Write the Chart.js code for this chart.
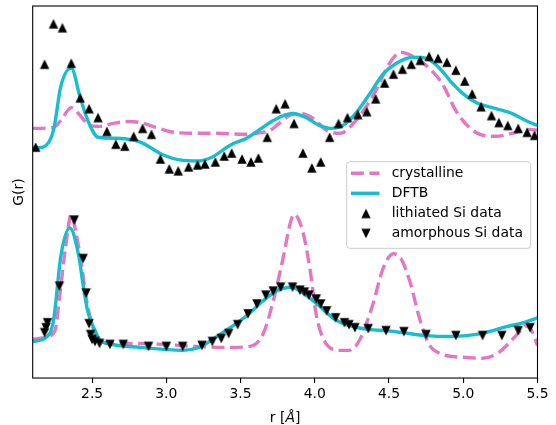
<!DOCTYPE html>
<html>
<head>
<meta charset="utf-8">
<script src="https://cdn.jsdelivr.net/npm/chart.js@4.4.1/dist/chart.umd.min.js"></script>
<style>
  html, body { margin: 0; padding: 0; background: #fff; }
  canvas { display: block; }
</style>
</head>
<body>
<canvas id="gr" width="556" height="425"></canvas>
<script>
// Tick positions on the r axis
const xTicks = [2.5, 3.0, 3.5, 4.0, 4.5, 5.0, 5.5];

// Lithiated Si: crystalline reference, DFTB and measured data (upper, offset set)
const crysUpR = [2.10, 2.24, 2.29, 2.36, 2.42, 2.48, 2.55, 2.64, 2.75, 2.82, 2.93, 3.05, 3.20, 3.34, 3.52, 3.61, 3.70, 3.76, 3.83, 3.90, 3.99, 4.08, 4.17, 4.26, 4.35, 4.41, 4.50, 4.58, 4.66, 4.77, 4.86, 4.95, 5.04, 5.13, 5.22, 5.33, 5.45, 5.50];
const crysUpG = [2.53, 2.54, 2.61, 2.74, 2.66, 2.56, 2.55, 2.58, 2.60, 2.59, 2.54, 2.49, 2.48, 2.48, 2.47, 2.48, 2.51, 2.58, 2.66, 2.68, 2.63, 2.51, 2.48, 2.58, 2.76, 2.91, 3.18, 3.30, 3.26, 3.14, 2.98, 2.71, 2.54, 2.46, 2.45, 2.48, 2.52, 2.51];

const dftUpR = [2.10, 2.17, 2.24, 2.29, 2.36, 2.42, 2.48, 2.54, 2.66, 2.78, 2.84, 2.98, 3.09, 3.22, 3.31, 3.43, 3.54, 3.65, 3.72, 3.85, 3.94, 4.03, 4.11, 4.19, 4.28, 4.37, 4.46, 4.55, 4.66, 4.75, 4.84, 4.93, 5.00, 5.09, 5.22, 5.33, 5.42, 5.50];
const dftUpG = [2.33, 2.34, 2.51, 2.96, 3.14, 2.84, 2.58, 2.44, 2.43, 2.41, 2.38, 2.26, 2.21, 2.20, 2.24, 2.36, 2.43, 2.54, 2.61, 2.68, 2.64, 2.56, 2.53, 2.56, 2.69, 2.88, 3.08, 3.19, 3.25, 3.24, 3.14, 2.98, 2.88, 2.79, 2.73, 2.68, 2.61, 2.56];

const lithR = [2.12, 2.18, 2.24, 2.30, 2.36, 2.42, 2.48, 2.54, 2.60, 2.66, 2.72, 2.78, 2.84, 2.90, 2.96, 3.02, 3.08, 3.15, 3.21, 3.26, 3.33, 3.39, 3.44, 3.51, 3.57, 3.62, 3.68, 3.74, 3.80, 3.86, 3.92, 3.98, 4.04, 4.10, 4.16, 4.22, 4.29, 4.35, 4.41, 4.47, 4.53, 4.59, 4.65, 4.71, 4.77, 4.83, 4.89, 4.95, 5.01, 5.06, 5.12, 5.19, 5.24, 5.30, 5.37, 5.43, 5.48];
const lithG = [2.34, 3.18, 3.59, 3.55, 3.19, 2.84, 2.73, 2.64, 2.50, 2.37, 2.35, 2.45, 2.53, 2.47, 2.22, 2.12, 2.10, 2.14, 2.16, 2.17, 2.19, 2.25, 2.28, 2.22, 2.19, 2.23, 2.44, 2.73, 2.78, 2.58, 2.28, 2.13, 2.19, 2.44, 2.58, 2.64, 2.67, 2.70, 2.83, 2.99, 3.08, 3.13, 3.18, 3.22, 3.26, 3.24, 3.20, 3.12, 3.01, 2.88, 2.75, 2.66, 2.59, 2.56, 2.53, 2.49, 2.46];

// Amorphous Si: crystalline reference, DFTB and measured data (lower set)
const crysLoR = [2.10, 2.18, 2.25, 2.28, 2.32, 2.36, 2.39, 2.43, 2.46, 2.50, 2.54, 2.64, 2.82, 2.98, 3.20, 3.43, 3.56, 3.65, 3.72, 3.79, 3.83, 3.86, 3.92, 3.97, 4.01, 4.08, 4.17, 4.23, 4.30, 4.39, 4.46, 4.53, 4.58, 4.64, 4.71, 4.77, 4.86, 5.00, 5.13, 5.24, 5.33, 5.38, 5.42, 5.46, 5.50];
const crysLoG = [0.39, 0.41, 0.48, 0.81, 1.31, 1.66, 1.48, 1.14, 0.81, 0.54, 0.39, 0.35, 0.35, 0.34, 0.32, 0.31, 0.32, 0.44, 0.78, 1.24, 1.54, 1.66, 1.48, 1.08, 0.64, 0.34, 0.28, 0.28, 0.38, 0.74, 1.11, 1.26, 1.21, 0.98, 0.58, 0.34, 0.24, 0.21, 0.20, 0.26, 0.39, 0.47, 0.53, 0.48, 0.33];

const dftLoR = [2.10, 2.19, 2.24, 2.29, 2.35, 2.41, 2.44, 2.47, 2.52, 2.55, 2.64, 2.82, 2.98, 3.11, 3.22, 3.31, 3.43, 3.54, 3.65, 3.74, 3.84, 3.94, 4.03, 4.14, 4.26, 4.37, 4.48, 4.59, 4.75, 4.89, 5.02, 5.15, 5.29, 5.40, 5.50];
const dftLoG = [0.37, 0.41, 0.58, 1.24, 1.52, 1.24, 0.94, 0.68, 0.48, 0.39, 0.34, 0.31, 0.29, 0.28, 0.31, 0.39, 0.51, 0.63, 0.78, 0.88, 0.92, 0.84, 0.73, 0.59, 0.52, 0.49, 0.48, 0.46, 0.43, 0.42, 0.43, 0.46, 0.52, 0.56, 0.61];

const amorR = [2.18, 2.19, 2.20, 2.28, 2.38, 2.44, 2.46, 2.48, 2.49, 2.50, 2.52, 2.55, 2.62, 2.71, 2.88, 3.00, 3.11, 3.24, 3.31, 3.37, 3.42, 3.48, 3.55, 3.61, 3.67, 3.72, 3.77, 3.85, 3.90, 3.93, 3.96, 4.01, 4.04, 4.08, 4.14, 4.20, 4.23, 4.27, 4.36, 4.48, 4.60, 4.75, 4.95, 5.13, 5.26, 5.37, 5.45];
const amorG = [0.46, 0.51, 0.56, 0.93, 1.60, 1.21, 0.86, 0.55, 0.44, 0.39, 0.37, 0.35, 0.34, 0.34, 0.32, 0.32, 0.32, 0.33, 0.37, 0.40, 0.45, 0.54, 0.65, 0.75, 0.84, 0.88, 0.92, 0.92, 0.89, 0.87, 0.84, 0.80, 0.75, 0.68, 0.61, 0.56, 0.54, 0.51, 0.50, 0.48, 0.47, 0.44, 0.43, 0.43, 0.43, 0.48, 0.51];

const PINK = '#e377c2';
const CYAN = '#17becf';
const FONT = '"DejaVu Sans", "Liberation Sans", sans-serif';
const FS = 13.9;
const DASH = [12.85, 5.55];

const pts = (r, g) => r.map((x, i) => ({ x: x, y: g[i] }));

// Filled triangle marker sprites
function triangleSprite(up) {
  const c = document.createElement('canvas');
  c.width = 12; c.height = 12;
  const g = c.getContext('2d');
  const h = 4.7;
  g.fillStyle = '#000';
  g.beginPath();
  if (up) {
    g.moveTo(6, 6 - h); g.lineTo(6 - h, 6 + h); g.lineTo(6 + h, 6 + h);
  } else {
    g.moveTo(6, 6 + h); g.lineTo(6 - h, 6 - h); g.lineTo(6 + h, 6 - h);
  }
  g.closePath();
  g.fill();
  return c;
}
const triUp = triangleSprite(true);
const triDown = triangleSprite(false);

const lineStyle = (color, dashed) => ({
  showLine: true,
  borderColor: color,
  borderWidth: 3.4,
  borderDash: dashed ? DASH : [],
  borderCapStyle: 'butt',
  pointRadius: 0,
  cubicInterpolationMode: 'monotone',
  fill: false
});

// Frame, axis titles and legend
const decorations = {
  id: 'decorations',
  afterDraw(chart) {
    const { ctx, chartArea: a } = chart;
    ctx.save();
    ctx.strokeStyle = '#000';
    ctx.lineWidth = 1.1;
    ctx.setLineDash([]);
    ctx.strokeRect(a.left, a.top, a.right - a.left, a.bottom - a.top);

    // x title: r [Å] with an oblique Å
    ctx.fillStyle = '#000';
    ctx.textBaseline = 'alphabetic';
    ctx.textAlign = 'left';
    const normal = FS + 'px ' + FONT;
    const oblique = 'oblique ' + FS + 'px ' + FONT;
    ctx.font = normal;
    const w1 = ctx.measureText('r [').width;
    const w3 = ctx.measureText(']').width;
    ctx.font = oblique;
    const w2 = ctx.measureText('Å').width;
    let tx = (a.left + a.right) / 2 - (w1 + w2 + w3) / 2;
    const ty = 421.5;
    ctx.font = normal; ctx.fillText('r [', tx, ty); tx += w1;
    ctx.font = oblique; ctx.fillText('Å', tx, ty); tx += w2;
    ctx.font = normal; ctx.fillText(']', tx, ty);

    // y title
    ctx.save();
    ctx.translate(19.5, (a.top + a.bottom) / 2);
    ctx.rotate(-Math.PI / 2);
    ctx.textAlign = 'center';
    ctx.textBaseline = 'middle';
    ctx.font = normal;
    ctx.fillText('G(r)', 0, 0);
    ctx.restore();

    // legend box
    const bx = 346.7, by = 161.7, bw = 184, bh = 86.6, rr = 3;
    ctx.beginPath();
    ctx.roundRect(bx, by, bw, bh, rr);
    ctx.fillStyle = 'rgba(255,255,255,0.8)';
    ctx.fill();
    ctx.strokeStyle = '#cccccc';
    ctx.lineWidth = 1;
    ctx.stroke();

    const rows = [177.3, 197.3, 217.3, 237.3];
    const labels = ['crystalline', 'DFTB', 'lithiated Si data', 'amorphous Si data'];
    const hx0 = 351, hx1 = 379.5, hxc = 366;
    ctx.lineWidth = 3.4;
    ctx.lineCap = 'butt';
    // crystalline handle
    ctx.strokeStyle = PINK;
    ctx.setLineDash(DASH);
    ctx.beginPath(); ctx.moveTo(hx0, rows[0] - 4); ctx.lineTo(hx1, rows[0] - 4); ctx.stroke();
    // DFTB handle
    ctx.strokeStyle = CYAN;
    ctx.setLineDash([]);
    ctx.beginPath(); ctx.moveTo(hx0, rows[1] - 4); ctx.lineTo(hx1, rows[1] - 4); ctx.stroke();
    // marker handles
    ctx.drawImage(triUp, hxc - 6, rows[2] - 3.8 - 6);
    ctx.drawImage(triDown, hxc - 6, rows[3] - 3.8 - 6);

    ctx.fillStyle = '#000';
    ctx.font = normal;
    ctx.textAlign = 'left';
    ctx.textBaseline = 'alphabetic';
    labels.forEach((t, i) => ctx.fillText(t, 391.7, rows[i]));
    ctx.restore();
  }
};

new Chart(document.getElementById('gr'), {
  type: 'scatter',
  data: {
    datasets: [
      { label: 'amorphous Si data', data: pts(amorR, amorG), pointStyle: triDown, pointRadius: 5, showLine: false },
      { label: 'lithiated Si data', data: pts(lithR, lithG), pointStyle: triUp, pointRadius: 5, showLine: false },
      Object.assign({ label: 'DFTB', data: pts(dftUpR, dftUpG) }, lineStyle(CYAN, false)),
      Object.assign({ label: 'DFTB', data: pts(dftLoR, dftLoG) }, lineStyle(CYAN, false)),
      Object.assign({ label: 'crystalline', data: pts(crysUpR, crysUpG) }, lineStyle(PINK, true)),
      Object.assign({ label: 'crystalline', data: pts(crysLoR, crysLoG) }, lineStyle(PINK, true))
    ]
  },
  options: {
    responsive: false,
    animation: false,
    devicePixelRatio: 1,
    events: [],
    layout: { padding: { left: 32.7, top: 3.7, right: 18.5, bottom: 19.3 } },
    plugins: { legend: { display: false }, tooltip: { enabled: false } },
    scales: {
      x: {
        type: 'linear',
        min: 2.1,
        max: 5.5,
        afterBuildTicks: (s) => { s.ticks = xTicks.map(v => ({ value: v })); },
        ticks: {
          font: { family: FONT, size: FS },
          color: '#000',
          padding: 3,
          maxRotation: 0,
          autoSkip: false,
          callback: (v) => Number(v).toFixed(1)
        },
        grid: {
          display: true,
          drawOnChartArea: false,
          drawTicks: true,
          tickLength: 5,
          tickColor: '#000',
          tickWidth: 1.1,
          color: '#000',
          lineWidth: 1.1
        },
        border: { display: false }
      },
      y: { display: false, min: 0, max: 3.77 }
    }
  },
  plugins: [decorations]
});
</script>
</body>
</html>
